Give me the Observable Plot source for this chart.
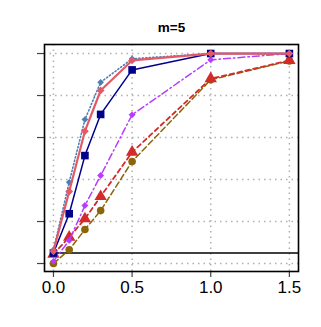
<!DOCTYPE html>
<html><head><meta charset="utf-8">
<script src="https://cdn.jsdelivr.net/npm/d3@7"></script>
<script src="https://cdn.jsdelivr.net/npm/@observablehq/plot@0.6"></script>
<style>body{margin:0;background:#fff}</style>
</head><body><div id="chart"></div>
<script>
const title = "m=5";
const xValues = [0, 0.1, 0.2, 0.3, 0.5, 1.0, 1.5];
const brownVals  = [0.00, 0.065, 0.162, 0.252, 0.486, 0.875, 0.965];
const redVals    = [0.045, 0.125, 0.213, 0.319, 0.53, 0.88, 0.967];
const purpleVals = [0.01, 0.11, 0.276, 0.419, 0.708, 0.97, 1.0];
const navyVals   = [0.05, 0.237, 0.514, 0.71, 0.922, 1.0, 1.0];
const blueVals   = [0.065, 0.387, 0.686, 0.863, 0.975, 1.0, 1.0];
const salmonVals = [0.058, 0.343, 0.63, 0.824, 0.967, 1.0, 1.0];
const xTicks = [0, 0.5, 1.0, 1.5];
const xTickLabels = ["0.0", "0.5", "1.0", "1.5"];
const yTicks = [0, 0.2, 0.4, 0.6, 0.8, 1.0];
const refLevel = 0.05;
const xDomain = [-0.057, 1.558];
const yDomain = [-0.038, 1.043];

const series = [
  {values: brownVals,  color: "#8B6508", dash: "6,3",       symbol: "circle",   r: 3.8, w: 1.5},
  {values: redVals,    color: "#D42A2A", dash: "4.5,3.5",   symbol: "triangle", r: 4.6, w: 1.8},
  {values: purpleVals, color: "#B63CFF", dash: "7,3,1.5,3", symbol: "diamond2", r: 3.1, w: 1.5},
  {values: navyVals,   color: "#00008B", dash: null,        symbol: "square",   r: 4.3, w: 1.5},
  {values: blueVals,   color: "#4A7FB5", dash: "1.2,2.3",   symbol: "diamond2", r: 3.0, w: 1.6},
  {values: salmonVals, color: "#E35A66", dash: null,        symbol: "diamond2", r: 3.5, w: 2.2}
];

const marks = [
  Plot.gridX(xTicks, {stroke: "#b0b0b0", strokeOpacity: 1, strokeWidth: 1.5, strokeDasharray: "1.5,4"}),
  Plot.gridY(yTicks, {stroke: "#b0b0b0", strokeOpacity: 1, strokeWidth: 1.5, strokeDasharray: "1.5,4"}),
  Plot.ruleY([refLevel], {x1: xValues[0], x2: xDomain[1], stroke: "black", strokeWidth: 1.4})
];
for (const s of series) {
  const rows = xValues.map((x, i) => ({x, y: s.values[i]}));
  marks.push(Plot.line(rows, {x: "x", y: "y", stroke: s.color, strokeWidth: s.w, strokeDasharray: s.dash || undefined}));
  marks.push(Plot.dot(rows, {x: "x", y: "y", fill: s.color, symbol: s.symbol, r: s.r, stroke: "none"}));
}
marks.push(
  Plot.axisX(xTicks, {tickFormat: (d, i) => xTickLabels[i], label: null, fontSize: 17, tickSize: 6, tickPadding: 3, stroke: "#444", strokeWidth: 1.2, fill: "black"}),
  Plot.axisY(yTicks, {tickFormat: () => "", label: null, tickSize: 7, stroke: "#444", strokeWidth: 1.2}),
  Plot.frame({stroke: "black", strokeWidth: 1.6}),
  Plot.text([title], {frameAnchor: "top", dy: -22, fontWeight: "bold", fontSize: 13.5, fill: "black"})
);

const chart = Plot.plot({
  width: 321, height: 327,
  marginLeft: 44, marginRight: 23, marginTop: 44, marginBottom: 56,
  x: {domain: xDomain, label: null},
  y: {domain: yDomain, label: null},
  style: {fontFamily: "Liberation Sans, Arial, sans-serif", background: "white"},
  marks
});
document.getElementById("chart").appendChild(chart);
</script>
</body></html>
